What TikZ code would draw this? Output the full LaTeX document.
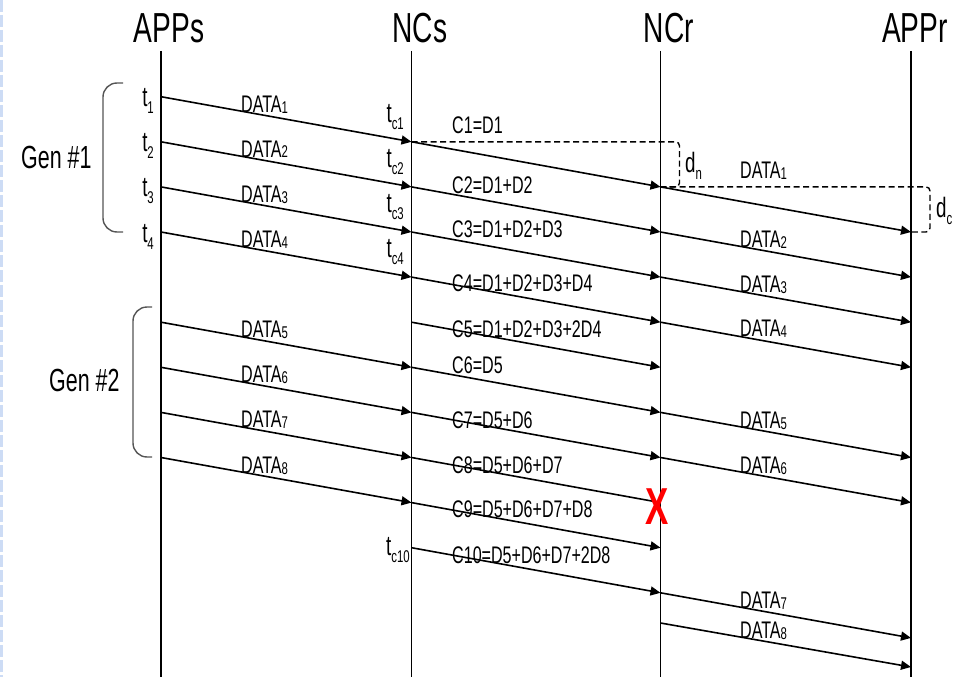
\documentclass[tikz,border=0pt]{standalone}
\usepackage{fontspec}
\setmainfont[FakeStretch=0.67]{Liberation Sans}
\usetikzlibrary{arrows.meta}
\definecolor{pageblue}{RGB}{205,220,245}
\definecolor{bracegray}{RGB}{85,85,85}
\newcommand{\fsz}[1]{\fontsize{#1}{#1}\selectfont}
\newcommand{\dlab}[1]{DATA\raisebox{-1pt}{\fsz{17}#1}}
\newcommand{\tsub}[2]{#1\raisebox{-7pt}{\fsz{17}#2}}
\begin{document}
\begin{tikzpicture}[x=1pt,y=-1pt,
  life/.style={line width=1.2pt},
  msg/.style={line width=1.6pt,-{Triangle[length=10pt,width=9pt]}},
  msgline/.style={line width=1.6pt},
  dbr/.style={line width=1.4pt,dash pattern=on 6pt off 3.5pt,rounded corners=4pt},
  gbrace/.style={line width=1.4pt,draw=bracegray,rounded corners=14pt},
  title/.style={font=\fsz{42},anchor=base,inner sep=0pt},
  lab/.style={font=\fsz{24},anchor=base west,inner sep=0pt},
  tl/.style={font=\fsz{28},anchor=base east,inner sep=0pt},
  dl/.style={font=\fsz{28},anchor=base west,inner sep=0pt},
  gen/.style={font=\fsz{32},anchor=base west,inner sep=0pt},
  xmark/.style={font=\fsz{52}\bfseries,text=red,inner sep=0pt}]
\fill[white] (0,0) rectangle (959,677);
\useasboundingbox (0,0) rectangle (959,677);
\draw[line width=3pt,draw=pageblue,dash pattern=on 12pt off 3pt] (1.5,0) -- (1.5,677);

% lifelines
\foreach \nm/\x in {A/161,S/411.5,R/660.5,P/911}{
  \coordinate (\nm top) at (\x,51);
  \coordinate (\nm bot) at (\x,677);
  \foreach \n in {0,...,12}{\coordinate (\nm\n) at (\x,{96.7+45.1*\n});}
}
\coordinate (Rx) at (660.5,623);
\coordinate (Px) at (911,667);
\draw[life] (Atop) -- (Abot);
\draw[life] (Stop) -- (Sbot);
\draw[life] (Rtop) -- (Rbot);
\draw[life] (Ptop) -- (Pbot);

% titles
\node[title] (tA) at (169,43) {APPs};
\node[title] (tS) at (420,43) {NCs};
\node[title] (tR) at (669,43) {NCr};
\node[title] (tP) at (915,43) {APPr};

% dashed delay brackets
\draw[dbr] (S1) -- ([xshift=19pt]R1) -- ([xshift=19pt]R2) -- (R2);
\draw[dbr] (R2) -- ([xshift=19pt]P2) -- ([xshift=19pt]P3) -- (P3);
\node[dl] (dn) at (685,172) {\tsub{d}{n}};
\node[dl] (dc) at (936,217) {\tsub{d}{c}};

% generation braces
\draw[gbrace] (123,83) -- (103,83) -- (103,232) -- (123,232);
\draw[gbrace] (152,307) -- (133,307) -- (133,457) -- (152,457);
\node[gen] (g1) at (21,168) {Gen \#1};
\node[gen] (g2) at (49,391) {Gen \#2};

% APPs -> NCs
\draw[msg] (A0) -- (S1);
\draw[msg] (A1) -- (S2);
\draw[msg] (A2) -- (S3);
\draw[msg] (A3) -- (S4);
\draw[msg] (A5) -- (S6);
\draw[msg] (A6) -- (S7);
\draw[msg] (A7) -- (S8);
\draw[msg] (A8) -- (S9);

% NCs -> NCr
\draw[msg] (S1) -- (R2);
\draw[msg] (S2) -- (R3);
\draw[msg] (S3) -- (R4);
\draw[msg] (S4) -- (R5);
\draw[msg] (S5) -- (R6);
\draw[msg] (S6) -- (R7);
\draw[msg] (S7) -- (R8);
\draw[msgline] (S8) -- (R9);
\draw[msg] (S9) -- (R10);
\draw[msg] (S10) -- (R11);

% NCr -> APPr
\draw[msg] (R2) -- (P3);
\draw[msg] (R3) -- (P4);
\draw[msg] (R4) -- (P5);
\draw[msg] (R5) -- (P6);
\draw[msg] (R7) -- (P8);
\draw[msg] (R8) -- (P9);
\draw[msg] (R11) -- (P12);
\draw[msg] (Rx) -- (Px);

% time labels
\node[tl] (t1) at (154,106.7) {\tsub{t}{1}};
\node[tl] (t2) at (154,151.8) {\tsub{t}{2}};
\node[tl] (t3) at (154,196.9) {\tsub{t}{3}};
\node[tl] (t4) at (154,242.0) {\tsub{t}{4}};
\node[tl] (tc1) at (404,122) {\tsub{t}{c1}};
\node[tl] (tc2) at (404,167.5) {\tsub{t}{c2}};
\node[tl] (tc3) at (404,212.5) {\tsub{t}{c3}};
\node[tl] (tc4) at (404,257.5) {\tsub{t}{c4}};
\node[tl] (tc10) at (410,555) {\tsub{t}{c10}};

% left DATA labels
\node[lab] (ld1) at (241,113) {\dlab{1}};
\node[lab] (ld2) at (241,157) {\dlab{2}};
\node[lab] (ld3) at (241,202) {\dlab{3}};
\node[lab] (ld4) at (241,247) {\dlab{4}};
\node[lab] (ld5) at (241,337) {\dlab{5}};
\node[lab] (ld6) at (241,382) {\dlab{6}};
\node[lab] (ld7) at (241,427) {\dlab{7}};
\node[lab] (ld8) at (241,473) {\dlab{8}};

% coded packet labels
\node[lab] (c1) at (452,133) {C1=D1};
\node[lab] (c2) at (452,193) {C2=D1+D2};
\node[lab] (c3) at (452,237) {C3=D1+D2+D3};
\node[lab] (c4) at (452,291) {C4=D1+D2+D3+D4};
\node[lab] (c5) at (452,337) {C5=D1+D2+D3+2D4};
\node[lab] (c6) at (452,373) {C6=D5};
\node[lab] (c7) at (452,428) {C7=D5+D6};
\node[lab] (c8) at (452,473) {C8=D5+D6+D7};
\node[lab] (c9) at (452,517) {C9=D5+D6+D7+D8};
\node[lab] (c10) at (452,563) {C10=D5+D6+D7+2D8};

% right DATA labels
\node[lab] (rd1) at (740,178) {\dlab{1}};
\node[lab] (rd2) at (740,247) {\dlab{2}};
\node[lab] (rd3) at (740,292) {\dlab{3}};
\node[lab] (rd4) at (740,336) {\dlab{4}};
\node[lab] (rd5) at (740,428) {\dlab{5}};
\node[lab] (rd6) at (740,473) {\dlab{6}};
\node[lab] (rd7) at (740,608) {\dlab{7}};
\node[lab] (rd8) at (740,638) {\dlab{8}};

% lost packet
\node[xmark] (lost) at (657,507) {X};
\end{tikzpicture}
\end{document}
